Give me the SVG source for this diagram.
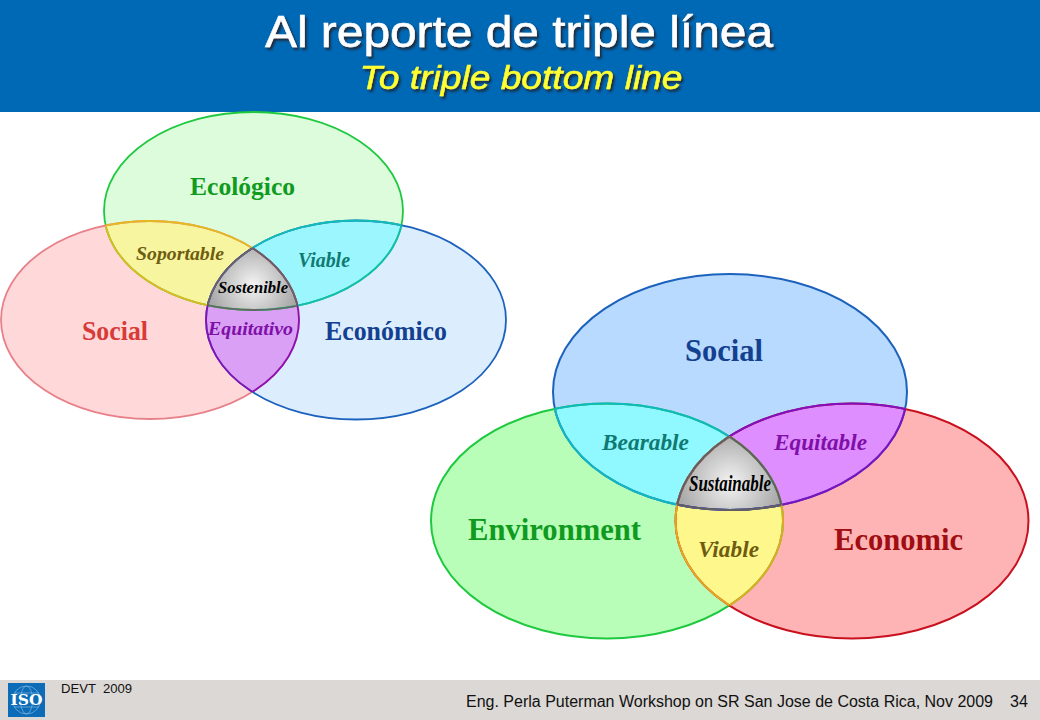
<svg xmlns="http://www.w3.org/2000/svg" width="1040" height="720" viewBox="0 0 1040 720">
<style>
.s{font-family:"Liberation Serif","Times New Roman",serif;font-weight:bold;text-anchor:start}
.i{font-style:italic}
.t{font-family:"Liberation Sans",Arial,sans-serif;text-anchor:middle}
.f{font-family:"Liberation Sans",Arial,sans-serif;fill:#111}
.o{fill:none}
.n{stroke:none}
</style>
<defs>
<ellipse id="lE" cx="253.5" cy="211" rx="149.5" ry="99"/>
<ellipse id="lS" cx="150" cy="320" rx="149" ry="99"/>
<ellipse id="lC" cx="356" cy="320" rx="150" ry="99.5"/>
<ellipse id="rS" cx="730" cy="392" rx="177" ry="118"/>
<ellipse id="rE" cx="607" cy="521" rx="176" ry="117.5"/>
<ellipse id="rC" cx="852" cy="521" rx="176.5" ry="117.5"/>
<clipPath id="clE"><use href="#lE"/></clipPath>
<clipPath id="clS"><use href="#lS"/></clipPath>
<clipPath id="clC"><use href="#lC"/></clipPath>
<clipPath id="crS"><use href="#rS"/></clipPath>
<clipPath id="crE"><use href="#rE"/></clipPath>
<clipPath id="crC"><use href="#rC"/></clipPath>
<radialGradient id="gL" gradientUnits="userSpaceOnUse" cx="253" cy="285" r="44"><stop offset="0" stop-color="#f4f4f4"/><stop offset="1" stop-color="#a8a8a8"/></radialGradient>
<radialGradient id="gR" gradientUnits="userSpaceOnUse" cx="730" cy="483" r="52"><stop offset="0" stop-color="#f4f4f4"/><stop offset="1" stop-color="#a8a8a8"/></radialGradient>
<filter id="sh" x="-5%" y="-20%" width="110%" height="140%"><feDropShadow dx="2" dy="2.5" stdDeviation="1.2" flood-color="#1c2c3c" flood-opacity="1"/></filter>
</defs>
<rect width="1040" height="720" fill="#fff"/>
<g id="header">
<rect width="1040" height="112" fill="#0069b6"/>
<text class="t" x="519" y="47" font-size="45" fill="#fff" stroke="#fff" stroke-width="0.5" filter="url(#sh)" textLength="508" lengthAdjust="spacingAndGlyphs">Al reporte de triple línea</text>
<text class="t" x="521" y="89" font-size="34" font-style="italic" fill="#ffff33" stroke="#ffff33" stroke-width="0.5" filter="url(#sh)" textLength="323" lengthAdjust="spacingAndGlyphs">To triple bottom line</text>
</g>
<g id="left-venn">
<g id="l-ecologico"><use href="#lE" fill="#dcfcdc" class="n"/></g>
<g id="l-social"><use href="#lS" fill="#ffd9d9" class="n"/></g>
<g id="l-economico"><use href="#lC" fill="#dcedfe" class="n"/></g>
<g id="l-soportable" clip-path="url(#clE)"><use href="#lS" fill="#f8f5a0" class="n"/></g>
<g id="l-viable" clip-path="url(#clE)"><use href="#lC" fill="#9cf6fe" class="n"/></g>
<g id="l-equitativo" clip-path="url(#clS)"><use href="#lC" fill="#d9a0f5" class="n"/></g>
<g id="l-sostenible" clip-path="url(#clE)"><g clip-path="url(#clS)"><use href="#lC" fill="url(#gL)" class="n"/></g></g>
<g id="l-strokes" class="o" stroke-width="1.8">
<use href="#lE" stroke="#1fc93f"/><use href="#lS" stroke="#e8808a"/><use href="#lC" stroke="#1c62bd"/>
<g clip-path="url(#clS)"><use href="#lE" stroke="#e6b820"/></g>
<g clip-path="url(#clE)"><use href="#lS" stroke="#e6b820"/></g>
<g clip-path="url(#clC)"><use href="#lE" stroke="#12bdb8"/></g>
<g clip-path="url(#clE)"><use href="#lC" stroke="#12bdb8"/></g>
<g clip-path="url(#clC)"><use href="#lS" stroke="#8a10b5"/></g>
<g clip-path="url(#clS)"><use href="#lC" stroke="#8a10b5"/></g>
<g clip-path="url(#clS)"><g clip-path="url(#clC)"><use href="#lE" stroke="#666"/></g></g>
<g clip-path="url(#clE)"><g clip-path="url(#clC)"><use href="#lS" stroke="#666"/></g></g>
<g clip-path="url(#clE)"><g clip-path="url(#clS)"><use href="#lC" stroke="#666"/></g></g>
</g>
<text class="s" x="190" y="195" font-size="26" fill="#109a20" textLength="105" lengthAdjust="spacingAndGlyphs">Ecológico</text>
<text class="s" x="82" y="340" font-size="27" fill="#d83a3a" textLength="66" lengthAdjust="spacingAndGlyphs">Social</text>
<text class="s" x="325" y="340" font-size="27" fill="#13418f" textLength="122" lengthAdjust="spacingAndGlyphs">Económico</text>
<text class="s i" x="136" y="260" font-size="19" fill="#6e5c10" textLength="88" lengthAdjust="spacingAndGlyphs">Soportable</text>
<text class="s i" x="298" y="267" font-size="20" fill="#0e7a72" textLength="52" lengthAdjust="spacingAndGlyphs">Viable</text>
<text class="s i" x="218" y="293" font-size="16" fill="#000" textLength="70" lengthAdjust="spacingAndGlyphs">Sostenible</text>
<text class="s i" x="208" y="335" font-size="19" fill="#800fa8" textLength="85" lengthAdjust="spacingAndGlyphs">Equitativo</text>
</g>
<g id="right-venn">
<g id="r-social"><use href="#rS" fill="#b8dafe" class="n"/></g>
<g id="r-environment"><use href="#rE" fill="#b8feb8" class="n"/></g>
<g id="r-economic"><use href="#rC" fill="#feb4b4" class="n"/></g>
<g id="r-bearable" clip-path="url(#crS)"><use href="#rE" fill="#90f8ff" class="n"/></g>
<g id="r-equitable" clip-path="url(#crS)"><use href="#rC" fill="#de8eff" class="n"/></g>
<g id="r-viable" clip-path="url(#crE)"><use href="#rC" fill="#fef88c" class="n"/></g>
<g id="r-sustainable" clip-path="url(#crS)"><g clip-path="url(#crE)"><use href="#rC" fill="url(#gR)" class="n"/></g></g>
<g id="r-strokes" class="o" stroke-width="2">
<use href="#rS" stroke="#1c62bd"/><use href="#rE" stroke="#1fc93f"/><use href="#rC" stroke="#c8101f"/>
<g clip-path="url(#crE)"><use href="#rS" stroke="#10b8c0"/></g>
<g clip-path="url(#crS)"><use href="#rE" stroke="#10b8c0"/></g>
<g clip-path="url(#crC)"><use href="#rS" stroke="#8010c0"/></g>
<g clip-path="url(#crS)"><use href="#rC" stroke="#8010c0"/></g>
<g clip-path="url(#crC)"><use href="#rE" stroke="#e6a820"/></g>
<g clip-path="url(#crE)"><use href="#rC" stroke="#e6a820"/></g>
<g clip-path="url(#crE)"><g clip-path="url(#crC)"><use href="#rS" stroke="#606060" stroke-width="2.2"/></g></g>
<g clip-path="url(#crS)"><g clip-path="url(#crC)"><use href="#rE" stroke="#606060" stroke-width="2.2"/></g></g>
<g clip-path="url(#crS)"><g clip-path="url(#crE)"><use href="#rC" stroke="#606060" stroke-width="2.2"/></g></g>
</g>
<text class="s" x="685" y="361" font-size="31" fill="#13418f" textLength="78" lengthAdjust="spacingAndGlyphs">Social</text>
<text class="s" x="468" y="540" font-size="32" fill="#109a20" textLength="173" lengthAdjust="spacingAndGlyphs">Environment</text>
<text class="s" x="834" y="550" font-size="32" fill="#a00d12" textLength="129" lengthAdjust="spacingAndGlyphs">Economic</text>
<text class="s i" x="602" y="450" font-size="24" fill="#0e7a72" textLength="87" lengthAdjust="spacingAndGlyphs">Bearable</text>
<text class="s i" x="774" y="450" font-size="24" fill="#800fa8" textLength="93" lengthAdjust="spacingAndGlyphs">Equitable</text>
<text class="s i" x="689" y="491" font-size="23" fill="#000" textLength="82" lengthAdjust="spacingAndGlyphs">Sustainable</text>
<text class="s i" x="698" y="557" font-size="24" fill="#6e5c10" textLength="61" lengthAdjust="spacingAndGlyphs">Viable</text>
</g>
<g id="footer">
<rect y="680" width="1040" height="40" fill="#dbd8d5"/>
<g id="iso-logo">
<rect x="8" y="683" width="37" height="34" fill="#0c6cb8"/>
<g fill="none" stroke="#7fb4de" stroke-width="0.7">
<circle cx="26.5" cy="700" r="14"/>
<ellipse cx="26.5" cy="700" rx="6" ry="14"/>
<path d="M14 693H39M14 707H39"/>
</g>
<text x="26.5" y="705" font-family="'DejaVu Serif',serif" font-weight="bold" font-size="14" fill="#fff" text-anchor="middle" textLength="32" lengthAdjust="spacingAndGlyphs">ISO</text>
</g>
<text class="f" x="61" y="693" font-size="12" xml:space="preserve" textLength="71" lengthAdjust="spacingAndGlyphs">DEVT  2009</text>
<text class="f" x="466" y="707" font-size="16" textLength="527" lengthAdjust="spacingAndGlyphs">Eng. Perla Puterman Workshop on SR San Jose de Costa Rica, Nov 2009</text>
<text class="f" x="1010" y="707" font-size="16">34</text>
</g>
</svg>
